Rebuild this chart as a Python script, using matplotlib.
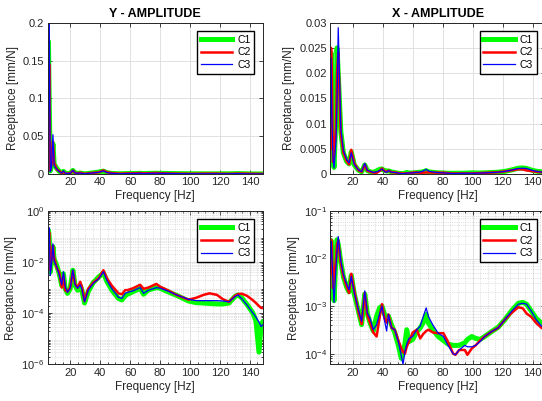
import numpy as np
import matplotlib
matplotlib.use("Agg")
import matplotlib.pyplot as plt
from matplotlib.ticker import FormatStrFormatter, MultipleLocator, LogLocator, NullFormatter

plt.rcParams['font.family'] = ['Liberation Sans', 'DejaVu Sans']
plt.rcParams['font.size'] = 8
plt.rcParams['mathtext.fontset'] = 'custom'
plt.rcParams['mathtext.rm'] = 'Liberation Sans'
plt.rcParams['mathtext.it'] = 'Liberation Sans:italic'
plt.rcParams['mathtext.bf'] = 'Liberation Sans:bold'

# ---- Y direction receptance (mm/N) ----
freq_y = [5, 5.5, 6, 6.7, 7.5, 8.5, 9.3, 11, 12.7, 14.4, 15.5, 16.7, 18.2, 20, 21.8, 23.3,
          25, 26.7, 27.8, 29.6, 32, 35.5, 39, 42.2, 44.4, 47.8, 52.2, 54.5, 56.7, 58.2,
          62, 66.7, 69, 72, 77.5, 80, 85, 91, 99, 104, 109, 113, 118, 122, 126, 130, 132,
          134.5, 138, 142, 144, 146, 147.5, 148.5]

y_c1 = [0.03, 0.175, 0.1, 0.004, 0.01, 0.04, 0.013, 0.0075, 0.0035, 0.0012, 0.0035, 0.0009,
        0.0006, 0.0009, 0.0048, 0.0012, 0.0008, 0.0012, 0.0008, 0.00025, 0.0007, 0.0016,
        0.0026, 0.0038, 0.0018, 0.0008, 0.00038, 0.00033, 0.00048, 0.00055, 0.0007, 0.00095,
        0.00055, 0.0008, 0.001, 0.00095, 0.0007, 0.0005, 0.0003, 0.00026, 0.00025, 0.00024,
        0.00023, 0.00023, 0.00025, 0.00045, 0.00052, 0.0004, 0.00022, 0.0001, 0.00005,
        0.000003, 0.00004, 0.000045]

y_c2 = [0.03, 0.06, 0.145, 0.005, 0.012, 0.043, 0.015, 0.006, 0.004, 0.001, 0.003, 0.0008,
        0.0007, 0.001, 0.0045, 0.0014, 0.001, 0.0017, 0.0011, 0.0003, 0.0009, 0.0016,
        0.0023, 0.0048, 0.0024, 0.0012, 0.0006, 0.00055, 0.0008, 0.0008, 0.00095, 0.0013,
        0.0009, 0.001, 0.0014, 0.0011, 0.0008, 0.00052, 0.00034, 0.0004, 0.00052, 0.0006,
        0.00052, 0.00035, 0.00028, 0.00048, 0.00056, 0.00058, 0.00048, 0.00032, 0.00025,
        0.00019, 0.00016, 0.00016]

y_c3 = [0.035, 0.08, 0.22, 0.003, 0.008, 0.052, 0.011, 0.0066, 0.0032, 0.0013, 0.0042,
        0.0011, 0.00066, 0.00095, 0.005, 0.0013, 0.00095, 0.0013, 0.0009, 0.00028, 0.0008,
        0.0015, 0.0022, 0.0042, 0.002, 0.0009, 0.00042, 0.00038, 0.0006, 0.00065, 0.00075,
        0.001, 0.0006, 0.00078, 0.001, 0.00095, 0.00075, 0.00052, 0.00035, 0.00031, 0.00031,
        0.00031, 0.00031, 0.0003, 0.00028, 0.00045, 0.00052, 0.00037, 0.00021, 0.0001,
        0.00007, 0.000045, 0.00003, 0.000035]

# ---- X direction receptance (mm/N) ----
freq_x = [5, 5.5, 6, 6.8, 7.5, 8.8, 9.5, 10.3, 12, 13.7, 15.9, 17.5, 19, 21, 23.7, 25.9, 28,
          29.7, 31.5, 33.7, 35.9, 38, 39.5, 41.2, 42.6, 43.8, 45.9, 48, 50.4, 52.4, 53.5,
          54.8, 56, 57.5, 60, 62.7, 65, 67, 69, 70.5, 73.5, 77, 80.5, 83.5, 87, 88.5, 91,
          94.8, 96.5, 99.5, 102, 105, 108, 112.5, 117, 121.5, 126, 130.5, 133.5, 136, 139,
          142.5, 146, 148.5]

x_c1 = [0.004, 0.024, 0.015, 0.004, 0.0013, 0.012, 0.025, 0.02, 0.0085, 0.0042, 0.0025,
        0.002, 0.0044, 0.0018, 0.0008, 0.00041, 0.0018, 0.0007, 0.00045, 0.0003, 0.00062,
        0.00093, 0.001, 0.00067, 0.0006, 0.00062, 0.0004, 0.00028, 0.00015, 0.00008, 0.0001,
        0.00016, 0.00032, 0.00018, 0.0002, 0.00029, 0.00035, 0.00045, 0.00067, 0.00044,
        0.00032, 0.00023, 0.00019, 0.00016, 0.00015, 0.00015, 0.00015, 0.00017, 0.0002,
        0.00023, 0.00021, 0.0002, 0.00023, 0.00029, 0.00036, 0.00052, 0.0008, 0.00115,
        0.0012, 0.0011, 0.0008, 0.00055, 0.00044, 0.00042]

x_c2 = [0.005, 0.025, 0.02, 0.0024, 0.0045, 0.009, 0.02, 0.024, 0.008, 0.0043, 0.0026,
        0.0019, 0.0048, 0.0021, 0.00078, 0.00042, 0.0019, 0.00065, 0.00045, 0.00028, 0.00023,
        0.0006, 0.0011, 0.00055, 0.00045, 0.00067, 0.00035, 0.00032, 0.00019, 0.00013,
        0.00011, 0.0001, 0.00014, 0.00018, 0.00028, 0.00032, 0.00021, 0.00026, 0.0003,
        0.00032, 0.00028, 0.00027, 0.00027, 0.00018, 0.0001, 0.000095, 0.00012, 0.00012,
        0.000095, 0.00013, 0.00015, 0.00019, 0.00023, 0.00029, 0.00035, 0.00052, 0.00072,
        0.00095, 0.0009, 0.0007, 0.0006, 0.00044, 0.00035, 0.00032]

x_c3 = [0.0076, 0.023, 0.012, 0.003, 0.0012, 0.0065, 0.015, 0.029, 0.009, 0.0047, 0.0029,
        0.0022, 0.0042, 0.0019, 0.00085, 0.00048, 0.0021, 0.00072, 0.00056, 0.00032, 0.00041,
        0.0007, 0.001, 0.0005, 0.0003, 0.00067, 0.00035, 0.00032, 0.00018, 0.00009, 0.00006,
        0.00011, 0.00016, 0.00021, 0.00023, 0.00032, 0.00038, 0.0006, 0.00092, 0.0006,
        0.0004, 0.00027, 0.00023, 0.00015, 0.0001, 0.000095, 0.00012, 0.00015, 0.00014,
        0.00014, 0.00015, 0.00018, 0.00023, 0.00029, 0.00035, 0.00052, 0.00078, 0.0011,
        0.00115, 0.0011, 0.0008, 0.00052, 0.00038, 0.00038]

labels = ['C1', 'C2', 'C3']
colors = ['#00ff00', '#ff0000', '#0000ff']
widths = [3.6, 1.8, 0.9]

edge = '#262626'
W, H = 542, 401
fig = plt.figure(figsize=(W / 100, H / 100), dpi=100)


def px_axes(x0, y0, x1, y1):
    return fig.add_axes([x0 / W, 1 - y1 / H, (x1 - x0) / W, (y1 - y0) / H])


def style(ax, log=False):
    ax.set_xlim(5, 148.5)
    ax.xaxis.set_major_locator(MultipleLocator(20))
    ax.tick_params(which='both', direction='in', top=True, right=True,
                   colors=edge, labelcolor=edge, length=3, width=0.6, labelsize=8, pad=2.5)
    ax.tick_params(which='minor', length=1.5)
    for s in ax.spines.values():
        s.set_color(edge)
        s.set_linewidth(0.7)
    ax.grid(True, which='major', color='#dcdcdc', lw=0.6)
    if log:
        ax.xaxis.set_minor_locator(MultipleLocator(5))
        ax.yaxis.set_minor_locator(LogLocator(base=10, subs=np.arange(2, 10)))
        ax.yaxis.set_minor_formatter(NullFormatter())
        ax.grid(True, which='minor', color='#c8c8c8', lw=0.5, ls=':')
    ax.set_axisbelow(True)
    ax.set_xlabel('Frequency [Hz]', fontsize=8.5, color=edge, labelpad=2)
    ax.set_ylabel('Receptance [mm/N]', fontsize=8.5, color=edge, labelpad=3)
    ax.legend(loc='upper right', fancybox=False, edgecolor='black', framealpha=1,
              fontsize=7.5, handlelength=3.0, handletextpad=0.5, borderaxespad=0.8,
              labelspacing=0.25, borderpad=0.35)


def draw(ax, f, series, log=False):
    for vals, lab, c, lw in zip(series, labels, colors, widths):
        if log:
            ax.semilogy(f, vals, color=c, lw=lw, label=lab)
        else:
            ax.plot(f, vals, color=c, lw=lw, label=lab)


# top row: linear amplitude
ax1 = px_axes(47.7, 22.7, 262.7, 174)
draw(ax1, freq_y, [y_c1, y_c2, y_c3])
ax1.set_ylim(0, 0.2)
ax1.yaxis.set_major_locator(MultipleLocator(0.05))
ax1.yaxis.set_major_formatter(FormatStrFormatter('%g'))
ax1.set_title('Y - AMPLITUDE', fontsize=9, fontweight='bold', pad=4)
style(ax1)

ax2 = px_axes(330.3, 22.7, 545.3, 174)
draw(ax2, freq_x, [x_c1, x_c2, x_c3])
ax2.set_ylim(0, 0.03)
ax2.yaxis.set_major_locator(MultipleLocator(0.005))
ax2.yaxis.set_major_formatter(FormatStrFormatter('%g'))
ax2.set_title('X - AMPLITUDE', fontsize=9, fontweight='bold', pad=4)
style(ax2)

# bottom row: log amplitude
ax3 = px_axes(47.7, 211, 262.7, 364.3)
draw(ax3, freq_y, [y_c1, y_c2, y_c3], log=True)
ax3.set_ylim(1e-6, 1)
ax3.set_yticks([1e-6, 1e-4, 1e-2, 1])
style(ax3, log=True)

ax4 = px_axes(330.3, 211, 545.3, 364.3)
draw(ax4, freq_x, [x_c1, x_c2, x_c3], log=True)
ax4.set_ylim(6e-5, 1e-1)
ax4.set_yticks([1e-4, 1e-3, 1e-2, 1e-1])
style(ax4, log=True)

fig.savefig('out.png', dpi=100)
